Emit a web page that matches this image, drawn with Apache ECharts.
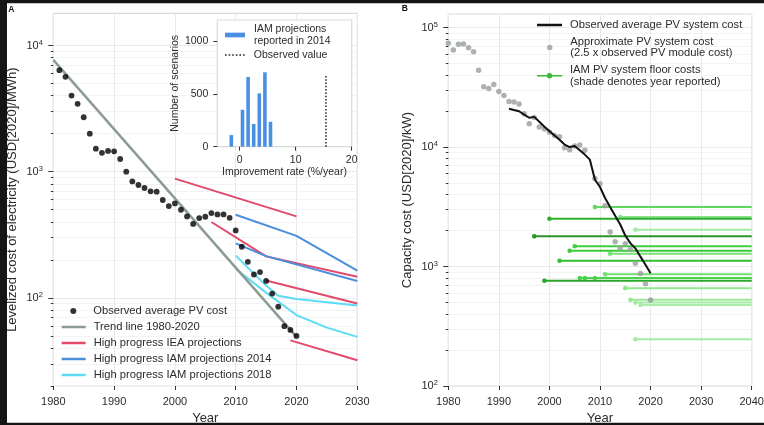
<!DOCTYPE html>
<html><head><meta charset="utf-8">
<script src="https://cdn.jsdelivr.net/npm/echarts@6/dist/echarts.min.js"></script>
<style>html,body{margin:0;padding:0;background:#fff}#c{width:764px;height:425px}</style>
</head><body><div id="c"></div>
<script>
// ---------------- data (panel A) ----------------
const lcoeYears = [1981,1982,1983,1984,1985,1986,1987,1988,1989,1990,1991,1992,1993,1994,1995,1996,1997,1998,1999,2000,2001,2002,2003,2004,2005,2006,2007,2008,2009,2010,2011,2012,2013,2014,2015,2016,2017,2018,2019,2020];
const lcoeValues = [6370,5650,4010,3450,2700,2000,1520,1410,1460,1450,1260,1000,837,784,742,698,694,596,534,560,499,442,385,429,439,470,458,458,431,342,254,193,153,160,136,108,85,59.6,55.7,49.9];
const trendYears = [1980, 2020];
const trendValues = [7700, 49];
const iea2000 = [[2000, 880], [2020, 442]];
const iea2006 = [[2006, 399], [2015, 213], [2030, 147]];
const iea2015 = [[2015, 137], [2030, 90]];
const iea2019 = [[2019, 46], [2030, 32]];
const iam2014a = [[2010, 456], [2020, 310], [2030, 164]];
const iam2014b = [[2010, 270], [2015, 214], [2030, 136]];
const iam2018a = [[2010, 216], [2015, 125], [2017, 104], [2020, 98], [2030, 87]];
const iam2018b = [[2010, 170], [2015, 110], [2020, 73], [2025, 58], [2030, 49]];
const lcoeMajorTicks = [100, 1000, 10000];
const lcoeMinorTicks = [20,30,40,50,60,70,80,90,200,300,400,500,600,700,800,900,2000,3000,4000,5000,6000,7000,8000,9000];
// inset histogram
const histBins = [-1.5, 0.5, 1.5, 2.5, 3.5, 4.5, 5.5];
const histCounts = [110, 350, 660, 215, 505, 705, 236];
const observedRate = [[15.4, 0], [15.4, 670]];
const histXTicks = [0, 10, 20];
const histYTicks = [0, 500, 1000];
// ---------------- data (panel B) ----------------
const moduleYears = [1980,1981,1982,1983,1984,1985,1986,1987,1988,1989,1990,1991,1992,1993,1994,1995,1996,1997,1998,1999,2000,2001,2002,2003,2004,2005,2006,2007,2009,2010,2011,2012,2013,2014,2015,2016,2017,2018,2019,2020];
const moduleValues = [73800,64900,72400,72900,67900,62900,44000,32000,31000,33400,29200,27000,24100,23800,22900,19000,15700,17700,14700,14200,13300,12500,12200,9850,9520,10200,10400,9400,5450,4940,3230,1950,1610,1430,1550,1390,1063,876,718,524];
const systemYears = [1992,1993,1994,1995,1996,1997,1998,1999,2000,2001,2002,2003,2004,2005,2006,2007,2008,2009,2010,2011,2012,2013,2014,2015,2016,2017,2018,2019,2020];
const systemValues = [20900,20400,19950,18700,17600,17900,16300,14800,13600,12500,11500,10500,10000,10200,9400,8650,7850,5330,4630,3750,3150,2660,2250,1820,1570,1420,1210,1035,880];
const floorYears = [1997,1999,2000,2002,2004,2005,2006,2007,2009,2009,2011,2012,2014,2015,2016,2017,2017,2017,2018];
const floorValues = [1790,760,2510,1117,1355,1480,800,800,800,3150,863,1280,2600,659,526,2030,499,246,476];
const floorEnd = 2040;
const capMajorTicks = [100, 1000, 10000, 100000];
const capMinorTicks = [200,300,400,500,600,700,800,900,2000,3000,4000,5000,6000,7000,8000,9000,20000,30000,40000,50000,60000,70000,80000,90000];

// ---------------- helpers ----------------
const L = Math.log10;
const zip = (xs, vs) => xs.map((x, i) => [x, L(vs[i])]);
const lg = arr => arr.map(p => [p[0], L(p[1])]);
const FONT = '"Liberation Sans", Arial, Helvetica, sans-serif';
const TXT = '#2b2b2b', TICK = '#333', GRIDL = '#e6eaea', MINL = '#f2f4f4', FRAME = '#d5dbdb';
const RED = '#e2496b', BLUE = '#4b8edb', CYAN = '#5bdcf5', TREND = '#8c9c93';

function shade(year) {
  const t = Math.max(0, Math.min(1, (year - 1997) / 21));
  return 'hsl(120,' + (58 + 6 * t).toFixed(0) + '%,' + (37 + 43 * t).toFixed(1) + '%)';
}
function supLabel(size, margin, vals) {
  return {
    customValues: vals, margin: margin,
    formatter: v => '{b|10}{s|' + Math.round(v) + '}',
    rich: {
      b: {fontSize: size, fontFamily: FONT, color: TXT, verticalAlign: 'bottom', lineHeight: size},
      s: {fontSize: size * 0.68, fontFamily: FONT, color: TXT, verticalAlign: 'bottom', lineHeight: size * 0.68, padding: [0, 0, 5, 0]}
    }
  };
}
function majorY(grid, min, max, majors, name) {
  return {
    type: 'value', gridIndex: grid, position: 'left', min: min, max: max,
    axisLine: {show: false, onZero: false},
    axisTick: {show: true, customValues: majors.map(L), length: 5, lineStyle: {color: TICK, width: 1}},
    axisLabel: supLabel(11, 10.5, majors.map(L)),
    splitLine: {show: true, lineStyle: {color: GRIDL, width: 1}},
    name: name, nameLocation: 'middle', nameGap: 34,
    nameTextStyle: {fontSize: 13, color: TXT, fontFamily: FONT}
  };
}
function minorY(grid, min, max, minors) {
  return {
    type: 'value', gridIndex: grid, position: 'left', min: min, max: max,
    axisLine: {show: false, onZero: false},
    axisTick: {show: true, customValues: minors.map(L), length: 2.5, lineStyle: {color: TICK, width: 1}},
    axisLabel: {show: false},
    splitLine: {show: true, lineStyle: {color: MINL, width: 1}}
  };
}
function yearX(grid, max) {
  return {
    type: 'value', gridIndex: grid, min: 1980, max: max, interval: 10,
    axisLine: {show: false, onZero: false},
    axisTick: {show: true, length: 4, lineStyle: {color: TICK, width: 1}},
    axisLabel: {margin: 10, fontSize: 11, color: TXT, fontFamily: FONT, formatter: v => String(v)},
    splitLine: {show: true, lineStyle: {color: GRIDL, width: 1}},
    name: 'Year', nameLocation: 'middle', nameGap: 23.5,
    nameTextStyle: {fontSize: 13, color: TXT, fontFamily: FONT}
  };
}
const legText = (lh, extra) => Object.assign({fontSize: 11.2, color: TXT, fontFamily: FONT, lineHeight: lh, padding: [0, 0, 0, 3]}, extra || {});
const twoLine = {
  'Approximate PV system cost (2.5 x observed PV module cost)': 'Approximate PV system cost\n(2.5 x observed PV module cost)',
  'IAM PV system floor costs (shade denotes year reported)': 'IAM PV system floor costs\n(shade denotes year reported)',
  'IAM projections reported in 2014': 'IAM projections\nreported in 2014'
};
const fmt = n => twoLine[n] || n;

function lineSeries(name, data, color, width, z) {
  return {type: 'line', name: name, xAxisIndex: 0, yAxisIndex: 0, data: lg(data), symbol: 'none',
    lineStyle: {color: color, width: width}, itemStyle: {color: color}, z: z || 2};
}

const floorData = floorYears.map((y, i) => [y, L(floorValues[i])]).reverse();

const option = {
  animation: false,
  backgroundColor: '#fff',
  textStyle: {fontFamily: FONT},
  grid: [
    {left: 53.3, top: 13.3, width: 304, height: 372.7, show: true, borderColor: FRAME, borderWidth: 1.2, backgroundColor: 'transparent', containLabel: false, outerBoundsMode: 'none'},
    {left: 448.3, top: 14, width: 303.4, height: 372, show: true, borderColor: FRAME, borderWidth: 1.2, backgroundColor: 'transparent', containLabel: false, outerBoundsMode: 'none'},
    {left: 217.3, top: 20, width: 134.4, height: 126.7, show: true, borderColor: FRAME, borderWidth: 1.2, backgroundColor: '#fff', containLabel: false, outerBoundsMode: 'none', z: 3}
  ],
  xAxis: [
    yearX(0, 2030),
    yearX(1, 2040),
    {type: 'value', gridIndex: 2, min: -4, max: 20, z: 4,
     axisLine: {show: false, onZero: false},
     axisTick: {show: true, customValues: histXTicks, length: 4, lineStyle: {color: TICK}},
     axisLabel: {customValues: histXTicks, margin: 8, fontSize: 10.5, color: TXT, fontFamily: FONT, formatter: v => String(v)},
     splitLine: {show: false},
     name: 'Improvement rate (%/year)', nameLocation: 'middle', nameGap: 20,
     nameTextStyle: {fontSize: 10.5, color: TXT, fontFamily: FONT}}
  ],
  yAxis: [
    majorY(0, L(20), L(18000), lcoeMajorTicks, 'Levelized cost of electricity (USD[2020]/MWh)'),
    minorY(0, L(20), L(18000), lcoeMinorTicks),
    majorY(1, L(100), L(130000), capMajorTicks, 'Capacity cost (USD[2020]/kW)'),
    minorY(1, L(100), L(130000), capMinorTicks),
    {type: 'value', gridIndex: 2, position: 'left', min: 0, max: 1200, z: 4,
     axisLine: {show: false, onZero: false},
     axisTick: {show: true, customValues: histYTicks, length: 4, lineStyle: {color: TICK}},
     axisLabel: {customValues: histYTicks, margin: 9, fontSize: 10.5, color: TXT, fontFamily: FONT, formatter: v => String(v)},
     splitLine: {show: false},
     name: 'Number of scenarios', nameLocation: 'middle', nameGap: 31,
     nameTextStyle: {fontSize: 10.5, color: TXT, fontFamily: FONT}}
  ],
  legend: [
    {data: ['Observed average PV cost'], left: 70.3, top: 305, orient: 'vertical', padding: 0, selectedMode: false,
     icon: 'circle', itemWidth: 24, itemHeight: 6, textStyle: legText(12)},
    {data: ['Trend line 1980-2020', 'High progress IEA projections', 'High progress IAM projections 2014', 'High progress IAM projections 2018'],
     left: 61.7, top: 321, orient: 'vertical', itemGap: 4, padding: 0, selectedMode: false,
     icon: 'rect', itemWidth: 24, itemHeight: 2.5, textStyle: legText(12)},
    {data: ['Observed average PV system cost'], left: 537, top: 19, orient: 'vertical', padding: 0, selectedMode: false,
     icon: 'rect', itemWidth: 25, itemHeight: 2.5, textStyle: legText(12)},
    {data: ['Approximate PV system cost (2.5 x observed PV module cost)'], left: 547, top: 35.8, orient: 'vertical', padding: 0, selectedMode: false,
     icon: 'circle', itemWidth: 25, itemHeight: 5.5, formatter: fmt, textStyle: legText(11.7)},
    {data: [{name: 'IAM PV system floor costs (shade denotes year reported)',
             icon: 'path://M0,2.2H25V3.8H0Z M9.8,3A2.7,2.7 0 1 1 15.2,3A2.7,2.7 0 1 1 9.8,3Z'}],
     left: 537, top: 64.1, orient: 'vertical', padding: 0, selectedMode: false,
     itemWidth: 25, itemHeight: 5.4, formatter: fmt, textStyle: legText(11.7)},
    {data: ['IAM projections reported in 2014'], left: 225, top: 23.3, orient: 'vertical', padding: 0, selectedMode: false, z: 8,
     icon: 'rect', itemWidth: 20, itemHeight: 4.7, formatter: fmt, textStyle: legText(11.7, {fontSize: 10.5, padding: [0, 0, 0, 4]})},
    {data: [{name: 'Observed value', icon: 'path://M0,0H1.6V1.6H0Z M3.6,0H5.2V1.6H3.6Z M7.2,0H8.8V1.6H7.2Z M10.8,0H12.4V1.6H10.8Z M14.4,0H16V1.6H14.4Z M18,0H19.6V1.6H18Z'}],
     left: 225, top: 49, orient: 'vertical', padding: 0, selectedMode: false, z: 8,
     itemWidth: 20, itemHeight: 1.6, textStyle: legText(12, {fontSize: 10.5, padding: [0, 0, 0, 4]})}
  ],
  graphic: [
    {type: 'rect', shape: {x: 0, y: 0, width: 7, height: 425}, style: {fill: '#151515'}, z: 100},
    {type: 'rect', shape: {x: 0, y: 0, width: 764, height: 3.3}, style: {fill: '#151515'}, z: 100},
    {type: 'rect', shape: {x: 0, y: 422.7, width: 764, height: 2.3}, style: {fill: '#151515'}, z: 100},
    {type: 'text', x: 8.3, y: 5.5, style: {text: 'A', fontSize: 8.5, fontWeight: 'bold', fill: '#111', fontFamily: FONT}, z: 100},
    {type: 'text', x: 401.7, y: 4.5, style: {text: 'B', fontSize: 8.5, fontWeight: 'bold', fill: '#111', fontFamily: FONT}, z: 100}
  ],
  series: [
    lineSeries('Trend line 1980-2020', zip(trendYears, trendValues).map(p => [p[0], Math.pow(10, p[1])]), TREND, 2.5, 3),
    lineSeries('High progress IEA projections', iea2000, RED, 2),
    lineSeries('High progress IEA projections', iea2006, RED, 2),
    lineSeries('High progress IEA projections', iea2015, RED, 2),
    lineSeries('High progress IEA projections', iea2019, RED, 2),
    lineSeries('High progress IAM projections 2014', iam2014a, BLUE, 2),
    lineSeries('High progress IAM projections 2014', iam2014b, BLUE, 2),
    lineSeries('High progress IAM projections 2018', iam2018a, CYAN, 2),
    lineSeries('High progress IAM projections 2018', iam2018b, CYAN, 2),
    {type: 'scatter', name: 'Observed average PV cost', xAxisIndex: 0, yAxisIndex: 0,
     data: zip(lcoeYears, lcoeValues), symbolSize: 5.8, itemStyle: {color: '#000'}, z: 6},
    // panel B
    {type: 'custom', name: 'IAM PV system floor costs (shade denotes year reported)', xAxisIndex: 1, yAxisIndex: 2,
     data: floorData, encode: {x: 0, y: 1}, itemStyle: {color: '#33bd33'}, z: 2,
     renderItem: function (params, api) {
       const yr = api.value(0), v = api.value(1);
       const p0 = api.coord([yr, v]);
       const p1 = api.coord([floorEnd, v]);
       const col = shade(yr);
       return {type: 'group', children: [
         {type: 'line', shape: {x1: p0[0], y1: p0[1], x2: p1[0], y2: p1[1]}, style: {stroke: col, lineWidth: 2}},
         {type: 'circle', shape: {cx: p0[0], cy: p0[1], r: 2.3}, style: {fill: col}}
       ]};
     }},
    {type: 'scatter', name: 'Approximate PV system cost (2.5 x observed PV module cost)', xAxisIndex: 1, yAxisIndex: 2,
     data: zip(moduleYears, moduleValues), symbolSize: 5.5, itemStyle: {color: '#9a9d9d'}, z: 4},
    {type: 'line', name: 'Observed average PV system cost', xAxisIndex: 1, yAxisIndex: 2,
     data: zip(systemYears, systemValues), symbol: 'none', lineStyle: {color: '#111', width: 2}, itemStyle: {color: '#111'}, z: 5},
    // inset
    {type: 'bar', name: 'IAM projections reported in 2014', xAxisIndex: 2, yAxisIndex: 4,
     data: histBins.map((b, i) => [b, histCounts[i]]), barWidth: 3.6, itemStyle: {color: '#4a90e2'}, z: 6},
    {type: 'line', name: 'Observed value', xAxisIndex: 2, yAxisIndex: 4, data: observedRate, symbol: 'none',
     lineStyle: {color: '#222', width: 1.5, type: [1.5, 1.8]}, itemStyle: {color: '#222'}, z: 6}
  ]
};
const chart = echarts.init(document.getElementById('c'), null, {renderer: 'canvas'});
chart.setOption(option);
</script></body></html>
